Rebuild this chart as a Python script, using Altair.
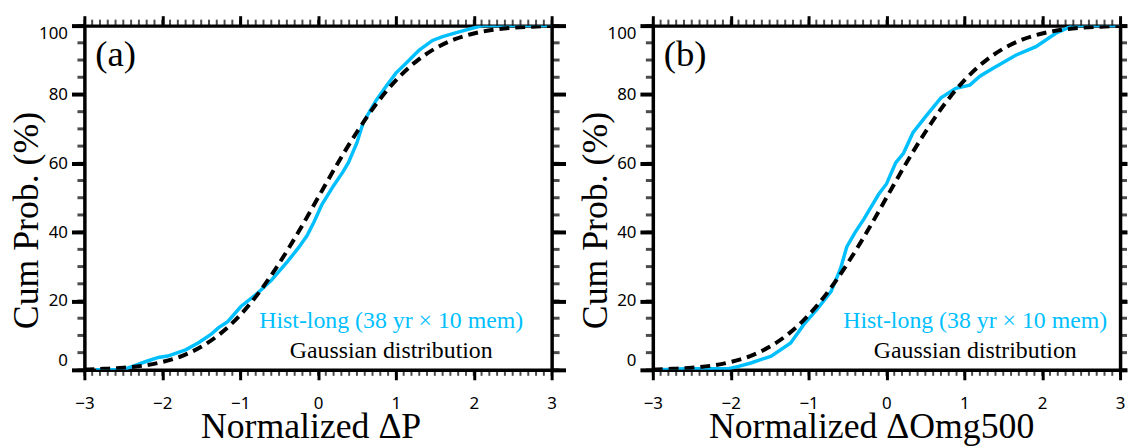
import altair as alt
import pandas as pd

CYAN = "#00BFFF"
SERIF = "Liberation Serif"
SANS = "Noto Sans"

# Gaussian reference curve (dashed), read at every 0.25
gauss_x = [-3.0, -2.75, -2.5, -2.25, -2.0, -1.75, -1.5, -1.25, -1.0, -0.75, -0.5, -0.25,
           0.0, 0.25, 0.5, 0.75, 1.0, 1.25, 1.5, 1.75, 2.0, 2.25, 2.5, 2.75, 3.0]
gauss_v = [0.1, 0.3, 0.6, 1.2, 2.3, 4.0, 6.7, 10.6, 15.9, 22.7, 30.9, 40.1,
           50.0, 59.9, 69.1, 77.3, 84.1, 89.4, 93.3, 96.0, 97.7, 98.8, 99.4, 99.7, 99.9]

# Panel (a): Hist-long, normalized dP
a_x = [-2.85, -2.52, -2.38, -2.2, -2.05, -1.93, -1.7, -1.54, -1.38, -1.28, -1.16, -0.99,
       -0.78, -0.6, -0.39, -0.25, -0.14, -0.05, 0.05, 0.2, 0.32, 0.39, 0.5, 0.58, 0.75,
       0.88, 1.0, 1.15, 1.3, 1.47, 1.6, 1.81, 2.11, 3.0]
a_v = [0, 0, 1.0, 2.5, 3.6, 4.0, 5.8, 7.8, 10.2, 12.2, 14.0, 18.4,
       22.2, 26.0, 31.5, 35.5, 39.0, 43.0, 48.0, 53.5, 57.5, 60.2, 66.0, 71.8, 78.4,
       82.5, 86.2, 89.5, 92.9, 95.7, 96.8, 98.2, 100, 100]

# Panel (b): Hist-long, normalized dOmg500
b_x = [-2.9, -2.59, -2.04, -1.9, -1.74, -1.48, -1.23, -1.06, -0.89, -0.71, -0.59, -0.51,
       -0.4, -0.29, -0.10, 0.0, 0.12, 0.22, 0.34, 0.51, 0.70, 0.89, 1.07, 1.2, 1.37,
       1.66, 1.92, 2.17, 2.39, 3.0]
b_v = [0, 0.3, 0.3, 1.0, 2.0, 4.0, 7.8, 13.2, 17.6, 22.8, 29.4, 35.7,
       40.0, 43.8, 51.0, 54.0, 60.2, 63.0, 68.9, 73.8, 79.0, 81.8, 82.7, 85.3, 87.6,
       91.4, 93.9, 97.7, 100, 100]

x_major = [-3, -2, -1, 0, 1, 2, 3]
x_minor = [round(-3 + 0.1 * i, 1) for i in range(61)]
y_major = [0, 20, 40, 60, 80, 100]
y_minor = list(range(0, 101, 5))

legend_texts = ["Hist-long (38 yr × 10 mem)", "Gaussian distribution"]
legend_v = [12.1, 3.5]

W, H = 471, 347


def ax_common(**kw):
    base = dict(grid=False, domainColor="black", tickColor="black", labelColor="black",
                titleColor="black", ticks=True)
    base.update(kw)
    return alt.Axis(**base)


def panel(cx, cv, label, xtitle, leg_x, title_x, right_major, right_minor):
    xs = alt.Scale(domain=[-3, 3], nice=False, zero=False)
    ys = alt.Scale(domain=[0, 100], nice=False, zero=False)
    gdf = pd.DataFrame({"x": gauss_x, "v": gauss_v})
    cdf = pd.DataFrame({"x": cx, "v": cv})
    xm = pd.DataFrame({"t": x_minor})
    ym = pd.DataFrame({"t": y_minor})

    # minor ticks, placed through the shared scales from the minor tick lists
    bot_minor = alt.Chart(xm).mark_tick(color="black", thickness=2, size=6, orient="vertical").encode(
        x=alt.X("t:Q", scale=xs, axis=None), y=alt.value(H + 3))
    top_minor = alt.Chart(xm).mark_tick(color="black", thickness=2, size=6, orient="vertical").encode(
        x=alt.X("t:Q", scale=xs, axis=None), y=alt.value(-3))
    left_minor = alt.Chart(ym).mark_tick(color="black", thickness=3, size=7, orient="horizontal").encode(
        y=alt.Y("t:Q", scale=ys, axis=None), x=alt.value(-3.5))
    right_minor_t = alt.Chart(ym).mark_tick(color="black", thickness=3, size=right_minor,
                                            orient="horizontal").encode(
        y=alt.Y("t:Q", scale=ys, axis=None), x=alt.value(W + right_minor / 2))

    cyan = alt.Chart(cdf).mark_line(color=CYAN, strokeWidth=3.5, clip=True).encode(
        x=alt.X("x:Q", scale=xs, axis=None),
        y=alt.Y("v:Q", scale=ys, axis=None),
    )
    gauss = alt.Chart(gdf).mark_line(color="black", strokeWidth=4, strokeDash=[10, 6],
                                     interpolate="monotone", clip=True).encode(
        x=alt.X("x:Q", scale=xs, axis=ax_common(
            orient="bottom", values=x_major, tickSize=10, tickWidth=3, labels=True,
            labelFont=SANS, labelFontSize=17, labelPadding=16, labelFlush=False,
            labelOverlap=False, domain=True, domainWidth=3.5,
            title=xtitle, titleFont=SERIF, titleFontSize=36, titleFontWeight="normal",
            titleBaseline="alphabetic", titleY=68, titleX=title_x, titleAlign="center")),
        y=alt.Y("v:Q", scale=ys, axis=ax_common(
            orient="left", values=y_major, tickSize=13, tickWidth=4, labels=True,
            labelFont=SANS, labelFontSize=17, labelPadding=4, labelFlush=True,
            labelOverlap=False, domain=True, domainWidth=3.5,
            title="Cum Prob. (%)", titleFont=SERIF, titleFontSize=36,
            titleFontWeight="normal", titleBaseline="alphabetic", titleX=-47, titleY=196,
            titleAlign="center")),
    )
    leg1 = alt.Chart(pd.DataFrame({"x": [leg_x], "v": [legend_v[0]], "t": [legend_texts[0]]})).mark_text(
        font=SERIF, fontSize=24, color=CYAN, align="center", baseline="alphabetic").encode(
        x=alt.X("x:Q", scale=xs, axis=ax_common(
            orient="top", values=x_major, tickSize=10, tickWidth=3, labels=False,
            domain=True, domainWidth=3.5, title=None)),
        y=alt.Y("v:Q", scale=ys, axis=ax_common(
            orient="right", values=y_major, tickSize=right_major, tickWidth=4, labels=False,
            domain=True, domainWidth=3.5, title=None)),
        text="t:N",
    )
    leg2 = alt.Chart(pd.DataFrame({"x": [leg_x], "v": [legend_v[1]], "t": [legend_texts[1]]})).mark_text(
        font=SERIF, fontSize=24, color="black", align="center", baseline="alphabetic").encode(
        x=alt.X("x:Q", scale=xs, axis=None),
        y=alt.Y("v:Q", scale=ys, axis=None),
        text="t:N",
    )
    lab = alt.Chart(pd.DataFrame({"t": [label]})).mark_text(
        font=SERIF, fontSize=37, color="black", align="left", baseline="alphabetic").encode(
        x=alt.value(11), y=alt.value(41), text="t:N")

    return alt.layer(cyan, gauss, leg1, leg2, lab, bot_minor, top_minor, left_minor,
                     right_minor_t).resolve_axis(
        x="independent", y="independent").properties(width=W, height=H)


pa = panel(a_x, a_v, "(a)", "Normalized ΔP", 0.94, 228, 14, 8)
pb = panel(b_x, b_v, "(b)", "Normalized ΔOmg500", 1.14, 220, 7, 7)

chart = alt.hconcat(pa, pb, spacing=102, bounds="flush").properties(
    padding={"left": 1, "top": 4, "right": 0, "bottom": 0}
).configure_view(stroke=None)

chart.save("out.html", embed_options={"renderer": "svg", "actions": False})
